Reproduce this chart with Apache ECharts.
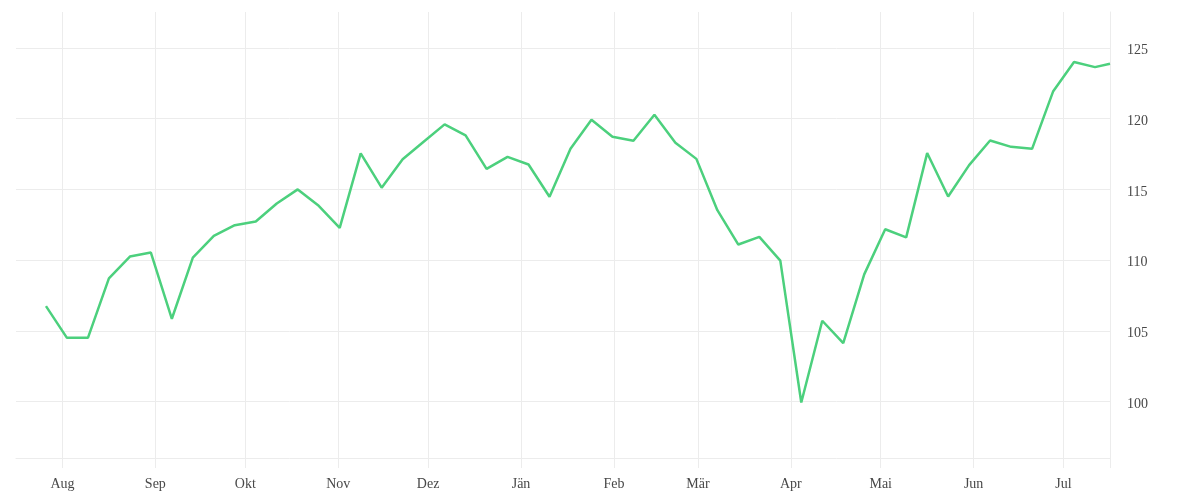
<!DOCTYPE html>
<html>
<head>
<meta charset="utf-8">
<title>chart</title>
<script src="https://cdn.jsdelivr.net/npm/echarts@6/dist/echarts.min.js"></script>
<style>
  html, body { margin: 0; padding: 0; background: #fff; }
  #main { width: 1200px; height: 500px; }
</style>
</head>
<body>
<div id="main"></div>
<script>
  // weekly closes (Fridays) plus the latest value
  var dates = [
    '2024-07-26', '2024-08-02', '2024-08-09', '2024-08-16', '2024-08-23', '2024-08-30',
    '2024-09-06', '2024-09-13', '2024-09-20', '2024-09-27', '2024-10-04', '2024-10-11',
    '2024-10-18', '2024-10-25', '2024-11-01', '2024-11-08', '2024-11-15', '2024-11-22',
    '2024-11-29', '2024-12-06', '2024-12-13', '2024-12-20', '2024-12-27', '2025-01-03',
    '2025-01-10', '2025-01-17', '2025-01-24', '2025-01-31', '2025-02-07', '2025-02-14',
    '2025-02-21', '2025-02-28', '2025-03-07', '2025-03-14', '2025-03-21', '2025-03-28',
    '2025-04-04', '2025-04-11', '2025-04-18', '2025-04-25', '2025-05-02', '2025-05-09',
    '2025-05-16', '2025-05-23', '2025-05-30', '2025-06-06', '2025-06-13', '2025-06-20',
    '2025-06-27', '2025-07-04', '2025-07-11', '2025-07-16'
  ];
  var values = [
    106.74, 104.50, 104.50, 108.71, 110.25, 110.53,
    105.85, 110.18, 111.71, 112.47, 112.73, 114.00,
    115.00, 113.84, 112.28, 117.55, 115.12, 117.13,
    118.37, 119.60, 118.82, 116.45, 117.30, 116.76,
    114.48, 117.87, 119.93, 118.72, 118.44, 120.28,
    118.30, 117.16, 113.53, 111.10, 111.64, 109.96,
    99.93, 105.71, 104.13, 108.99, 112.18, 111.61,
    117.57, 114.50, 116.72, 118.46, 118.01, 117.87,
    121.92, 124.01, 123.65, 123.89
  ];
  var monthNames = ['Jän', 'Feb', 'Mär', 'Apr', 'Mai', 'Jun', 'Jul', 'Aug', 'Sep', 'Okt', 'Nov', 'Dez'];
  var monthTicks = [
    '2024-08-01', '2024-09-01', '2024-10-01', '2024-11-01', '2024-12-01', '2025-01-01',
    '2025-02-01', '2025-03-01', '2025-04-01', '2025-05-01', '2025-06-01', '2025-07-01'
  ];
  var yTicks = [100, 105, 110, 115, 120, 125];

  // local timestamp, optional hour of day
  function ts(s, h) {
    var p = s.split('-');
    return new Date(+p[0], +p[1] - 1, +p[2], h || 0).getTime();
  }

  var xMin = ts('2024-07-16', 12);
  var xMax = ts('2025-07-16', 12);
  var labelTicks = monthTicks.map(function (d) { return ts(d); });
  var allTicks = labelTicks.concat([xMax]);

  var gridColor = '#ececec';
  var textStyle = { color: '#484848', fontFamily: 'Liberation Serif', fontSize: 14 };

  var chart = echarts.init(document.getElementById('main'));
  chart.setOption({
    animation: false,
    backgroundColor: '#fff',
    grid: { left: 16, right: 90, top: 12, bottom: 42, containLabel: false },
    xAxis: {
      type: 'value',
      min: xMin,
      max: xMax,
      axisLine: { show: true, lineStyle: { color: gridColor, width: 1 } },
      axisTick: { show: true, length: 10, customValues: allTicks, lineStyle: { color: gridColor } },
      splitLine: { show: true, lineStyle: { color: gridColor, width: 1 } },
      axisLabel: {
        customValues: labelTicks,
        margin: 19,
        color: textStyle.color,
        fontFamily: textStyle.fontFamily,
        fontSize: textStyle.fontSize,
        formatter: function (v) {
          return monthNames[new Date(v).getMonth()];
        }
      }
    },
    yAxis: {
      type: 'value',
      position: 'right',
      min: 96,
      max: 127.55,
      axisLine: { show: true, lineStyle: { color: gridColor, width: 1 } },
      axisTick: { show: false, customValues: yTicks },
      splitLine: { show: true, lineStyle: { color: gridColor, width: 1 } },
      axisLabel: {
        customValues: yTicks,
        margin: 17,
        formatter: function (v) { return '{n|' + v + '}'; },
        rich: {
          n: {
            padding: [5, 0, 0, 0],
            color: textStyle.color,
            fontFamily: textStyle.fontFamily,
            fontSize: textStyle.fontSize
          }
        }
      }
    },
    series: [{
      type: 'line',
      data: dates.map(function (d, i) {
        var t = i === dates.length - 1 ? xMax : ts(d, 12);
        return [t, values[i]];
      }),
      showSymbol: false,
      smooth: false,
      lineStyle: { color: '#4CD07D', width: 2.5 },
      itemStyle: { color: '#4CD07D' }
    }]
  });
</script>
</body>
</html>
